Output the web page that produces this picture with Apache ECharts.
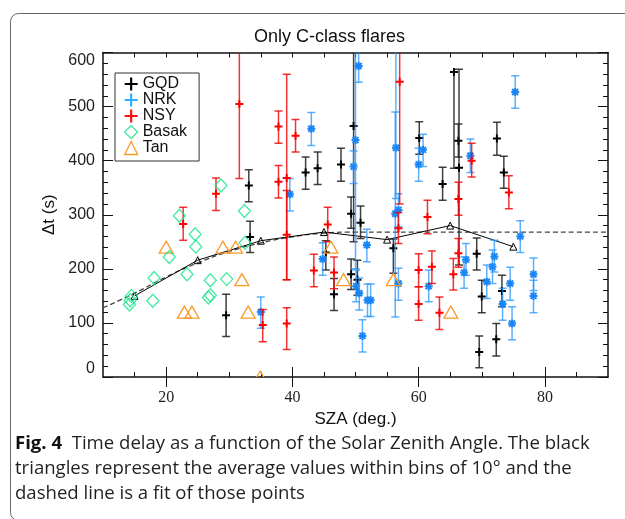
<!DOCTYPE html>
<html><head><meta charset="utf-8">
<script src="https://cdn.jsdelivr.net/npm/echarts@6/dist/echarts.min.js"></script>
<style>html,body{margin:0;padding:0;background:#fff}#c{width:625px;height:519px}</style>
</head><body><div id="c"></div>
<script>
// ---- data: [SZA, dt, lowerEnd, upperEnd] ----
const GQD = [
  [29.5,114,75,153],[33.1,354,324,383],[33.3,259,230,288],[42.1,378,347,407],[44.0,386,356,416],
  [45.3,230,198,252],[46.6,153,123,182],[47.7,393,362,423],[49.3,302,275,333],[49.3,190,162,218],
  [49.7,464,250,680],[50.3,180,151,216],[50.8,285,256,316],[56.0,238,192,255],[60.1,442,412,472],
  [63.8,357,327,388],[65.6,564,386,564],[66.3,437,407,468],[66.4,387,207,569],[69.2,228,198,257],
  [69.6,46,17,76],[70.0,149,119,179],[72.3,70,39,99],[72.4,441,410,471],[73.2,159,130,188],
  [73.5,378,349,408]
];
const NRK = [
  [35.0,120,90,148],[39.6,338,307,367],[43.0,459,428,489],[44.8,218,188,248],[49.7,389,358,418],
  [50.0,438,200,700],[50.5,575,545,605],[50.1,168,139,198],[50.6,155,124,183],[51.8,244,213,273],
  [51.9,142,112,172],[52.4,142,112,172],[51.1,76,46,106],[56.4,424,330,700],[56.3,302,111,490],
  [56.8,309,278,339],[56.8,173,142,201],[60.0,393,362,423],[60.7,420,389,449],[61.6,168,139,198],
  [67.5,217,188,247],[67.2,193,164,222],[68.2,409,378,440],[70.8,176,145,207],[71.7,204,173,235],
  [72.0,223,194,253],[73.3,135,105,164],[74.5,173,142,203],[74.8,99,69,130],[75.3,527,497,557],
  [76.1,260,230,289],[78.2,190,160,220],[78.2,150,119,179]
];
const NSY = [
  [22.7,283,253,314],[27.9,339,308,368],[31.6,505,367,660],[35.3,96,65,125],[37.8,463,432,492],
  [37.8,361,331,391],[39.1,368,180,560],[39.1,263,180,345],[39.1,99,51,128],[40.5,446,416,476],
  [43.4,197,167,227],[45.6,282,250,314],[46.6,193,163,222],[56.8,275,247,304],[57.0,546,320,700],
  [60.0,198,167,228],[60.0,135,105,167],[61.4,296,265,327],[62.1,204,173,233],[63.3,119,88,148],
  [65.5,190,161,219],[66.3,329,299,360],[66.3,229,203,256],[68.4,400,370,432],[74.3,341,311,372]
];
const BASAK = [
  [14.5,150],[14.3,142],[14.2,134],[17.9,141],[18.1,183],[20.5,222],[22.1,298],[23.3,190],
  [24.6,264],[24.7,241],[26.7,147],[27.0,151],[27.0,179],[28.7,354],[29.6,181],[32.4,307],[32.5,248]
];
const TAN = [
  [20.0,240],[22.9,120],[24.1,120],[29.0,240],[31.0,240],[32.0,180],[33.0,120],[34.9,0],
  [46.1,240],[48.1,180],[56.0,180],[65.1,120]
];
const AVG = [[15,150],[25,216],[35,252],[45,268],[55,254],[65,280],[75,241]];
const FIT = [[10,128],[15,155],[20,185],[25,211],[30,232],[35,248],[40,259],[45,266],[50,268],
  [55,268],[60,268],[65,268],[70,268],[75,268],[80,268],[85,268],[90,268]];
const X_LABELS = [20,40,60,80];
const X_MINOR = [15,20,25,30,35,40,45,50,55,60,65,70,75,80,85];
const TITLE = 'Only C-class flares';
const X_NAME = 'SZA (deg.)';
const Y_NAME = 'Δt (s)';
const CAP_BOLD = 'Fig. 4';
const CAPTION = [
  '  Time delay as a function of the Solar Zenith Angle. The black',
  'triangles represent the average values within bins of 10° and the',
  'dashed line is a fit of those points'
];

const chart = echarts.init(document.getElementById('c'), null, {renderer:'canvas'});
const SANS = 'Liberation Sans';
const CAPFONT = 'Open Sans';
const axCol = '#111';

// fit caption font size so that line 1 spans the reference width
const mctx = document.createElement('canvas').getContext('2d');
function lineWidthAt(sz){
  mctx.font = 'bold ' + sz + 'px "' + CAPFONT + '"';
  const wb = mctx.measureText(CAP_BOLD).width;
  mctx.font = sz + 'px "' + CAPFONT + '"';
  return wb + mctx.measureText(CAPTION[0]).width;
}
let capSize = 17;
{ const w = lineWidthAt(20); capSize = Math.max(14, Math.min(20, 20 * 575 / w)); }

function errSeries(name, data, barColor, markColor, marker) {
  return {
    type:'custom', name, data, clip:true, encode:{x:0,y:1}, z:3,
    itemStyle:{color:markColor},
    renderItem(params, api){
      const x=api.value(0), y=api.value(1), lo=api.value(2), hi=api.value(3);
      const p=api.coord([x,y]), pl=api.coord([x,lo]), ph=api.coord([x,hi]);
      const c=4, m=4;
      const bs={stroke:barColor, lineWidth:1.5};
      const ms={stroke:markColor, lineWidth:2};
      const ch=[
        {type:'line', shape:{x1:pl[0],y1:pl[1],x2:ph[0],y2:ph[1]}, style:bs},
        {type:'line', shape:{x1:pl[0]-c,y1:pl[1],x2:pl[0]+c,y2:pl[1]}, style:bs},
        {type:'line', shape:{x1:ph[0]-c,y1:ph[1],x2:ph[0]+c,y2:ph[1]}, style:bs},
        {type:'line', shape:{x1:p[0]-m,y1:p[1],x2:p[0]+m,y2:p[1]}, style:ms},
        {type:'line', shape:{x1:p[0],y1:p[1]-m,x2:p[0],y2:p[1]+m}, style:ms}
      ];
      if (marker==='star') {
        const d=3;
        ch.push({type:'line', shape:{x1:p[0]-d,y1:p[1]-d,x2:p[0]+d,y2:p[1]+d}, style:ms});
        ch.push({type:'line', shape:{x1:p[0]-d,y1:p[1]+d,x2:p[0]+d,y2:p[1]-d}, style:ms});
      }
      return {type:'group', children:ch};
    }
  };
}

const plus = 'path://M5,0h2v12h-2zM0,5h12v2h-12z';
const xBase = {type:'value', min:10, max:90, interval:5, splitLine:{show:false}, gridIndex:0};
const yBase = {type:'value', min:0, max:600, interval:100, splitLine:{show:false}};
const TAN_COL = '#f99a2a', BASAK_COL = '#12e58a';

chart.setOption({
  animation:false,
  title:{text:TITLE, left:254, top:28, padding:0,
    textStyle:{fontFamily:SANS, fontSize:18, fontWeight:'normal', color:'#111'}},
  grid:{left:103, top:52.5, right:17, bottom:142, containLabel:false},
  legend:{
    left:115, top:73, orient:'vertical', padding:[3,12,5,9], itemGap:0,
    itemWidth:13, itemHeight:13, borderColor:'#333', borderWidth:1,
    textStyle:{fontFamily:SANS, fontSize:16, color:'#111', lineHeight:16},
    selectedMode:false,
    data:[
      {name:'GQD', icon:plus, itemStyle:{color:'#000'}},
      {name:'NRK', icon:plus, itemStyle:{color:'#2cb0ff'}},
      {name:'NSY', icon:plus, itemStyle:{color:'#ff1010'}},
      {name:'Basak', icon:'diamond', itemStyle:{color:'rgba(0,0,0,0)', borderColor:BASAK_COL, borderWidth:1.3}},
      {name:'Tan', icon:'triangle', itemStyle:{color:'rgba(0,0,0,0)', borderColor:TAN_COL, borderWidth:1.3}}
    ]
  },
  xAxis:[
    Object.assign({}, xBase, {position:'bottom',
      axisLine:{show:true,onZero:false,lineStyle:{color:axCol,width:1.5}},
      axisTick:{show:true,inside:true,length:5,customValues:X_MINOR,lineStyle:{color:axCol}},
      axisLabel:{show:true,customValues:X_LABELS,fontFamily:'Liberation Serif',fontSize:16,color:'#222',margin:13},
      name:X_NAME, nameLocation:'middle', nameGap:26,
      nameTextStyle:{fontFamily:SANS,fontSize:17,color:'#111'}}),
    Object.assign({}, xBase, {position:'bottom',
      axisLine:{show:false}, axisTick:{show:true,inside:true,length:10,customValues:X_LABELS,lineStyle:{color:axCol}},
      axisLabel:{show:false}}),
    Object.assign({}, xBase, {position:'top',
      axisLine:{show:true,onZero:false,lineStyle:{color:axCol,width:1.5}},
      axisTick:{show:true,inside:true,length:5,customValues:X_MINOR,lineStyle:{color:axCol}},
      axisLabel:{show:false}}),
    Object.assign({}, xBase, {position:'top',
      axisLine:{show:false}, axisTick:{show:true,inside:true,length:10,customValues:X_LABELS,lineStyle:{color:axCol}},
      axisLabel:{show:false}})
  ],
  yAxis:[
    Object.assign({}, yBase, {position:'left',
      axisLine:{show:true,onZero:false,lineStyle:{color:axCol,width:1.5}},
      axisTick:{show:true,inside:true,length:10,lineStyle:{color:axCol}},
      minorTick:{show:true,splitNumber:5,length:5,lineStyle:{color:axCol}},
      axisLabel:{fontFamily:SANS,fontSize:16,color:'#222',margin:8,
        verticalAlignMinLabel:'bottom', verticalAlignMaxLabel:'top'},
      name:Y_NAME, nameLocation:'middle', nameGap:24, nameRotate:90,
      nameTextStyle:{fontFamily:SANS,fontSize:17,color:'#111'}}),
    Object.assign({}, yBase, {position:'right',
      axisLine:{show:true,onZero:false,lineStyle:{color:axCol,width:1.5}},
      axisTick:{show:true,inside:true,length:10,lineStyle:{color:axCol}},
      minorTick:{show:true,splitNumber:5,length:5,lineStyle:{color:axCol}},
      axisLabel:{show:false}})
  ],
  series:[
    {type:'line', name:'fit', data:FIT, smooth:true, symbol:'none', z:2,
      lineStyle:{color:'#444', width:1.3, type:[5,3]}},
    {type:'line', name:'avg', data:AVG, symbol:'triangle', symbolSize:7, z:2,
      lineStyle:{color:'#000', width:1},
      itemStyle:{color:'rgba(0,0,0,0)', borderColor:'#000', borderWidth:1}},
    {type:'scatter', name:'Basak', data:BASAK, symbol:'diamond', symbolSize:[12,13], z:4,
      itemStyle:{color:'rgba(0,0,0,0)', borderColor:BASAK_COL, borderWidth:1.3}},
    {type:'custom', name:'Tan', data:TAN, clip:true, encode:{x:0,y:1}, z:4,
      itemStyle:{color:TAN_COL},
      renderItem(params, api){
        const p = api.coord([api.value(0), api.value(1)]);
        const w = 7, h = 6;
        return {type:'polygon', shape:{points:[[p[0],p[1]-h],[p[0]+w,p[1]+h],[p[0]-w,p[1]+h]]},
          style:{fill:'none', stroke:TAN_COL, lineWidth:1.3}};
      }},
    errSeries('GQD', GQD, 'rgba(30,30,30,0.85)', '#000', 'plus'),
    errSeries('NRK', NRK, 'rgba(40,150,255,0.75)', '#1a86f5', 'star'),
    errSeries('NSY', NSY, 'rgba(240,0,0,0.8)', '#ff0000', 'plus')
  ],
  graphic:[
    {type:'rect', left:8, top:11, shape:{x:0,y:0,width:640,height:507,r:8}, silent:true, z:-1,
      style:{fill:'none', stroke:'#666', lineWidth:1}},
    ...CAPTION.map((t,i)=>({type:'text', x:15, y:444+i*25, silent:true,
      style:{text:(i===0?'{b|'+CAP_BOLD+'}':'')+t, fontFamily:CAPFONT, fontSize:capSize, fill:'#231f20',
        verticalAlign:'middle',
        rich:{b:{fontFamily:CAPFONT, fontSize:capSize, fontWeight:'bold', fill:'#111'}}}}))
  ]
});
</script></body></html>
